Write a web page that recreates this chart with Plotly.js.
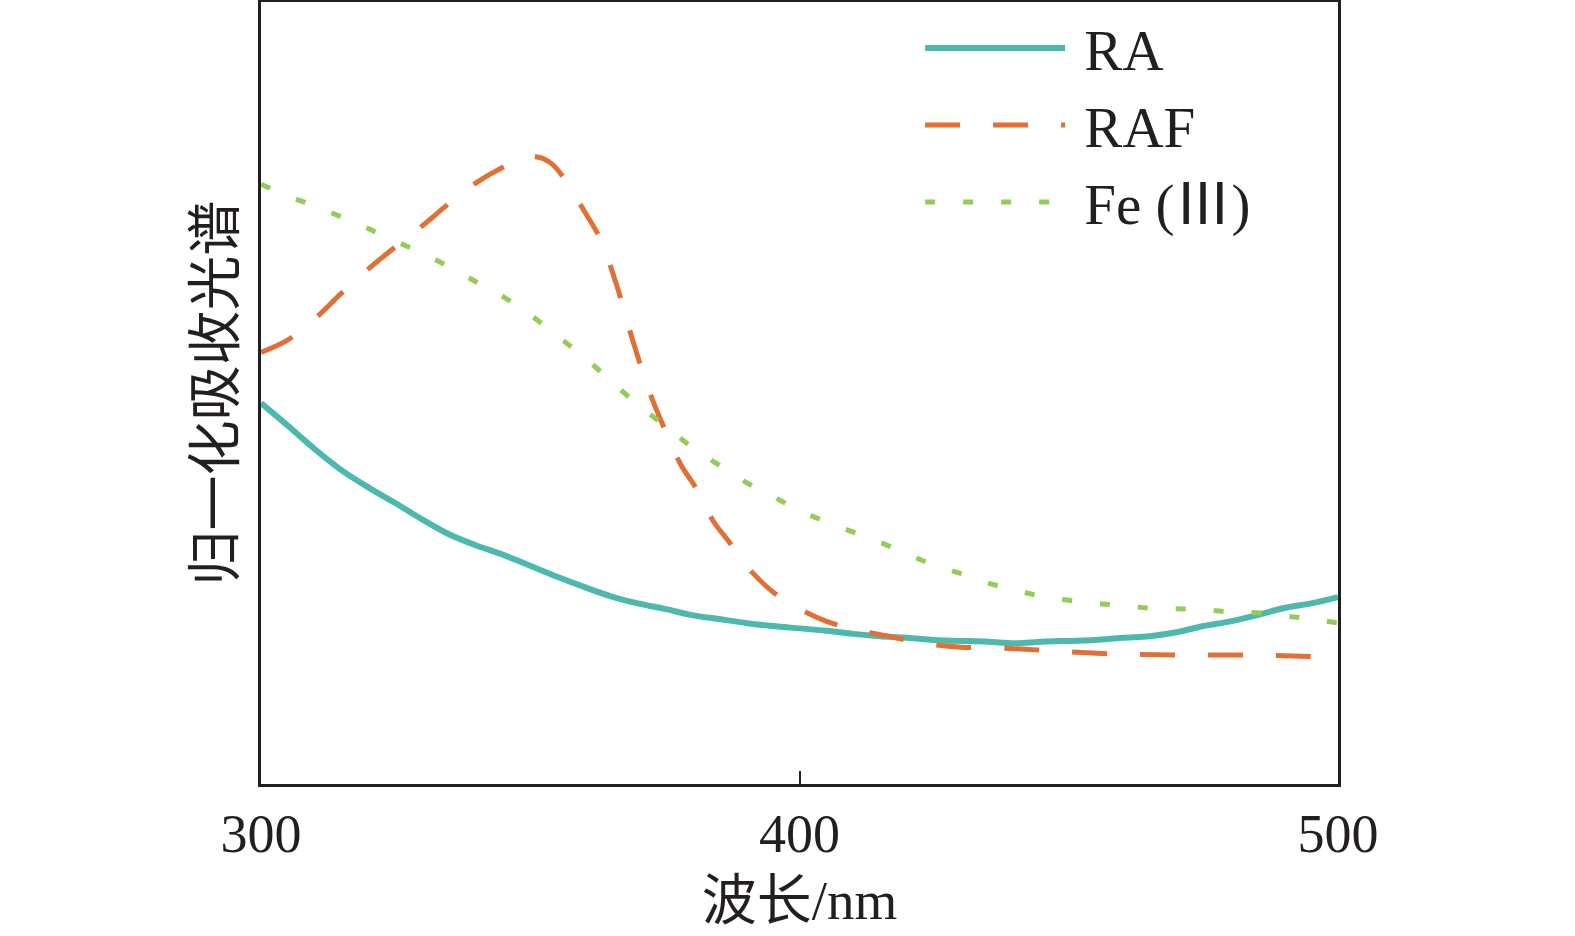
<!DOCTYPE html>
<html>
<head>
<meta charset="utf-8">
<script src="https://cdn.plot.ly/plotly-3.0.1.min.js"></script>
<style>
  html, body { margin: 0; padding: 0; background: #fff; }
  #chart { width: 1575px; height: 936px; }
</style>
</head>
<body>
<div id="chart"></div>
<script>
// wavelength grids (nm)
const wl_ra = [300,305,310,315,320,325,330,335,340,345,350,355,360,365,370,375,380,385,390,395,
  400,405,410,415,420,425,430,435,440,445,450,455,460,465,470,475,480,485,490,495,500];
const ra = [0.487,0.458,0.428,0.401,0.379,0.359,0.338,0.319,0.305,0.293,0.279,0.265,0.252,0.240,0.231,0.224,0.216,0.211,0.206,0.202,
  0.199,0.196,0.192,0.189,0.187,0.184,0.183,0.182,0.180,0.182,0.183,0.184,0.187,0.189,0.194,0.202,0.208,0.216,0.225,0.231,0.239];

const wl_raf = [300,305,310,315,320,325,330,335,340,345,348,351,354,357,360,363,366,369,372,375,378,381,384,387,390,
  395,400,405,410,415,420,425,430,440,450,460,470,480,490,500];
const raf = [0.552,0.568,0.595,0.628,0.659,0.687,0.714,0.743,0.769,0.789,0.798,0.802,0.793,0.767,0.733,0.697,0.639,0.568,0.504,0.453,0.408,0.376,0.336,0.309,0.280,
  0.246,0.224,0.208,0.198,0.191,0.184,0.178,0.175,0.173,0.169,0.166,0.165,0.165,0.164,0.162];

const wl_fe = wl_ra;
const fe = [0.767,0.752,0.739,0.725,0.710,0.694,0.679,0.661,0.642,0.623,0.600,0.573,0.546,0.515,0.485,0.458,0.431,0.408,0.386,0.368,
  0.350,0.335,0.322,0.309,0.294,0.280,0.269,0.257,0.248,0.240,0.235,0.231,0.228,0.225,0.224,0.223,0.220,0.219,0.215,0.211,0.206];

const xticks = [300, 400, 500];
const names = ['RA', 'RAF', 'Fe (Ⅲ)'];

const font = '"Liberation Serif", "Times New Roman", "Noto Sans CJK SC", serif';

const traces = [
  {x: wl_ra, y: ra, name: ' ' + names[0], mode: 'lines',
   line: {color: '#4db8ac', width: 6, shape: 'spline'}},
  {x: wl_raf, y: raf, name: ' ' + names[1], mode: 'lines',
   line: {color: '#e07036', width: 5, dash: '35px,33px', shape: 'spline'}},
  {x: wl_fe, y: fe, name: ' ' + names[2], mode: 'lines',
   line: {color: '#94cc5a', width: 5, dash: '10px,28px', shape: 'spline'}}
];

const layout = {
  width: 1575, height: 936,
  margin: {l: 261, r: 237, t: 2, b: 152},
  paper_bgcolor: '#fff', plot_bgcolor: '#fff',
  font: {family: font, color: '#231f20', size: 54},
  showlegend: true,
  legend: {
    x: 0.612, y: 0.997, xanchor: 'left', yanchor: 'top',
    bgcolor: 'rgba(0,0,0,0)', itemwidth: 140,
    font: {family: font, size: 57, color: '#231f20'}
  },
  xaxis: {
    range: [300, 500], tickvals: xticks, ticktext: xticks.map(String),
    ticks: 'inside', ticklen: 13, tickwidth: 2, tickcolor: '#231f20',
    showline: true, linewidth: 3, linecolor: '#231f20', mirror: true,
    showgrid: false, zeroline: false,
    tickfont: {size: 54},
    title: {text: '波长/nm', font: {size: 55}, standoff: 18}
  },
  yaxis: {
    range: [0, 1],
    showticklabels: false, ticks: '',
    showline: true, linewidth: 3, linecolor: '#231f20', mirror: true,
    showgrid: false, zeroline: false,
    title: {text: '归一化吸收光谱', font: {size: 55}, standoff: 6}
  }
};

Plotly.newPlot('chart', traces, layout, {staticPlot: true});
</script>
</body>
</html>
